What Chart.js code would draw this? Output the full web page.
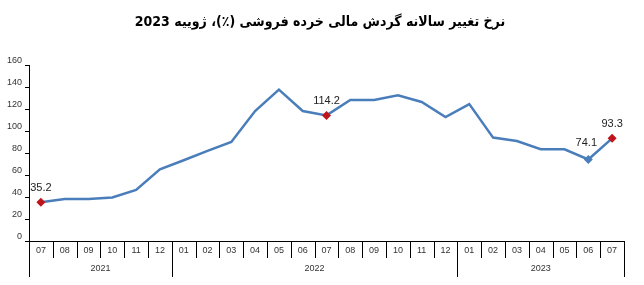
<!DOCTYPE html>
<html>
<head>
<meta charset="utf-8">
<script src="https://cdn.jsdelivr.net/npm/chart.js@4"></script>
<style>
html,body{margin:0;padding:0;background:#fff;}
#wrap{width:644px;height:285px;position:relative;}
</style>
</head>
<body>
<div id="wrap"><canvas id="c" width="644" height="285"></canvas></div>
<script>
const titleText = "نرخ تغییر سالانه گردش مالی خرده فروشی (٪)، ژوییه 2023";
const months = ["07","08","09","10","11","12","01","02","03","04","05","06","07","08","09","10","11","12","01","02","03","04","05","06","07"];
const yearLabels = ["2021","2022","2023"];
const yearCounts = [6,12,7];
const values = [35.2,38.2,38.2,39.5,46.4,65.2,73.4,82.0,90.0,118.2,137.6,118.2,114.2,128.2,128.2,132.4,126.4,112.7,124.5,94.0,90.9,83.4,83.4,74.1,93.3];
const redIdx = [0,12,24];
const blueMarkIdx = [23];
const labeledIdx = [0,12,23,24];
const yTicks = [0,20,40,60,80,100,120,140,160];

const lineColor = "#4a7ebb";
const red = "#c0141c";

const pointRadius = values.map((v,i)=> (redIdx.includes(i)||blueMarkIdx.includes(i)) ? 4.5 : 0);
const pointColor = values.map((v,i)=> redIdx.includes(i) ? red : lineColor);

const decor = {
  id:'decor',
  afterDraw(chart){
    const ctx = chart.ctx;
    const xs = chart.scales.x;
    const ca = chart.chartArea;
    const n = months.length;
    const step = (xs.getPixelForValue(n-1) - xs.getPixelForValue(0))/(n-1);
    const bounds = [];
    for(let i=0;i<=n;i++) bounds.push(xs.getPixelForValue(0) - step/2 + i*step);
    const yearB = [0];
    yearCounts.forEach(c=>yearB.push(yearB[yearB.length-1]+c));
    ctx.save();
    ctx.strokeStyle = "#000";
    ctx.lineWidth = 1;
    for(let i=0;i<=n;i++){
      const x = Math.round(bounds[i])+0.5;
      const isYear = yearB.includes(i);
      ctx.beginPath();
      ctx.moveTo(x, ca.bottom);
      ctx.lineTo(x, ca.bottom + (isYear ? 36 : 17));
      ctx.stroke();
    }
    ctx.fillStyle = "#333";
    ctx.font = "9px 'Liberation Sans', Arial, sans-serif";
    ctx.textAlign = "center";
    ctx.textBaseline = "middle";
    for(let k=0;k<yearLabels.length;k++){
      const x = (bounds[yearB[k]] + bounds[yearB[k+1]])/2;
      ctx.fillText(yearLabels[k], x, ca.bottom + 27.5);
    }
    // data labels
    const meta = chart.getDatasetMeta(0);
    ctx.font = "11px 'Liberation Sans', Arial, sans-serif";
    ctx.fillStyle = "#222";
    labeledIdx.forEach(i=>{
      const p = meta.data[i];
      const dx = (i===23) ? -2 : 0;
      const dy = (i===23) ? 17 : 14;
      ctx.fillText(values[i].toFixed(1), p.x+dx, p.y-dy);
    });
    // title
    ctx.font = "bold 14px 'DejaVu Sans Condensed', 'DejaVu Sans', sans-serif";
    ctx.fillStyle = "#000";
    ctx.direction = "rtl";
    ctx.textAlign = "center";
    ctx.fillText(titleText, 320, 22);
    ctx.restore();
  }
};

new Chart(document.getElementById('c'), {
  type:'line',
  data:{
    labels: months,
    datasets:[{
      data: values,
      borderColor: lineColor,
      borderWidth: 2.5,
      tension: 0,
      pointStyle: 'rectRot',
      pointRadius: pointRadius,
      pointHoverRadius: pointRadius,
      pointBackgroundColor: pointColor,
      pointBorderColor: pointColor,
      pointBorderWidth: 0
    }]
  },
  options:{
    responsive:false,
    animation:false,
    events:[],
    layout:{padding:{left:0,right:20,top:65,bottom:0}},
    plugins:{legend:{display:false},title:{display:false},tooltip:{enabled:false}},
    scales:{
      x:{
        offset:true,
        grid:{display:false,drawTicks:false},
        border:{display:true,color:"#000",width:1},
        ticks:{font:{size:9,family:"'Liberation Sans', Arial, sans-serif"},color:"#333",padding:4,maxRotation:0,autoSkip:false},
        afterFit(s){ s.height = 44; }
      },
      y:{
        min:0,max:160,
        afterBuildTicks(s){ s.ticks = yTicks.map(v=>({value:v})); },
        grid:{display:true,drawOnChartArea:false,drawTicks:true,tickLength:4,color:"#000"},
        border:{display:true,color:"#000",width:1},
        ticks:{font:{size:9,family:"'Liberation Sans', Arial, sans-serif"},color:"#333",padding:3,labelOffset:-4},
        afterFit(s){ s.width = 29; }
      }
    }
  },
  plugins:[decor]
});
</script>
</body>
</html>
